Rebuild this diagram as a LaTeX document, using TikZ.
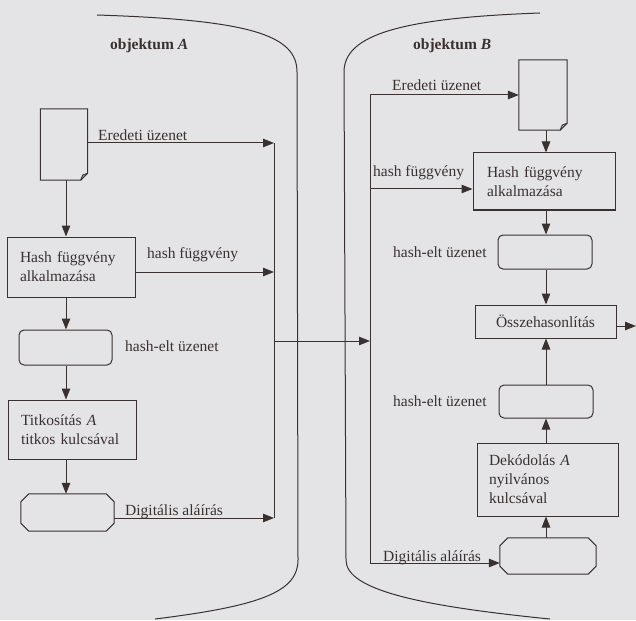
\documentclass[tikz,border=0pt]{standalone}
\usepackage{fontspec}
\setmainfont{Liberation Serif}
\usetikzlibrary{arrows.meta}
\definecolor{ink}{RGB}{58,48,48}
\definecolor{paper}{RGB}{228,228,230}
\newcommand\octframe[1]{\draw[line] ([xshift=8pt]#1.north west) -- ([xshift=-8pt]#1.north east) -- ([yshift=-8pt]#1.north east) -- ([yshift=8pt]#1.south east) -- ([xshift=-8pt]#1.south east) -- ([xshift=8pt]#1.south west) -- ([yshift=8pt]#1.south west) -- ([yshift=-8pt]#1.north west) -- cycle;}
\newcommand\docframe[1]{\draw[line] (#1.north west) -- (#1.north east) -- ([yshift=7pt]#1.south east) -- ([xshift=-7pt]#1.south east) -- (#1.south west) -- cycle;
  \draw[line] ([xshift=-7pt]#1.south east) -- ([xshift=-5pt,yshift=5pt]#1.south east) -- ([yshift=7pt]#1.south east);}
\tikzset{
  line/.style={draw=ink, line width=1pt},
  arr/.style={line, -{Triangle[length=11pt,width=8.5pt]}},
  box/.style={line, inner xsep=13pt, inner ysep=0pt, align=left},
  rbox/.style={line, rounded corners=5pt, inner sep=0pt},
  shape0/.style={inner sep=0pt},
  lbl/.style={inner sep=0pt, anchor=base west},
}
\begin{document}
\begin{tikzpicture}[x=1pt,y=-1pt, font=\fontsize{15.5}{19}\selectfont, text=ink]
\fill[paper] (0,0) rectangle (636,620);
\useasboundingbox (0,0) rectangle (636,620);

% containers
\draw[line] (97,15) .. controls (250,20) and (297,35) .. (297,72) -- (298,560) .. controls (298,592) and (260,606) .. (155,619);
\draw[line] (540,13) .. controls (400,18) and (344,35) .. (344,72) -- (346,560) .. controls (346,590) and (420,606) .. (550,619);

\node[lbl, font=\fontsize{15.5}{19}\selectfont\bfseries] (objA) at (110,50) {objektum \textit{A}};
\node[lbl, font=\fontsize{15.5}{19}\selectfont\bfseries] (objB) at (413,50) {objektum \textit{B}};

% columns
\coordinate (colA) at (66,0);
\coordinate (colB) at (546,0);

% left side nodes
\node[shape0, minimum width=47pt, minimum height=71pt] (docA) at (64,144.5) {};
\docframe{docA}
\node[box, text width=102pt, minimum height=60pt] (hashA) at (71,267) {Hash függvény\\alkalmazása};
\node[rbox, minimum width=93pt, minimum height=35pt] (hrA) at (65.5,347.5) {};
\node[box, text width=102pt, minimum height=59pt] (encA) at (72,429.5) {Titkosítás \textit{A}\\titkos kulcsával};
\node[shape0, minimum width=93pt, minimum height=37pt] (octA) at (67.5,512.5) {};
\octframe{octA}

% right side nodes
\node[shape0, minimum width=48pt, minimum height=70pt] (docB) at (543,95) {};
\docframe{docB}
\node[box, inner xsep=14pt, text width=114pt, minimum height=57pt] (hashB) at (544,181.5) {Hash függvény\\alkalmazása};
\node[rbox, minimum width=94pt, minimum height=34pt] (hrB1) at (545,252) {};
\node[line, inner sep=0pt, minimum width=141pt, minimum height=33pt] (cmp) at (545.5,321.5) {Összehasonlítás};
\node[rbox, minimum width=94pt, minimum height=33pt] (hrB2) at (546,401.5) {};
\node[box, inner xsep=12pt, text width=117pt, minimum height=73pt] (decB) at (547.5,479.5) {Dekódolás \textit{A}\\nyilvános\\kulcsával};
\node[shape0, minimum width=96pt, minimum height=36pt] (octB) at (548,556) {};
\octframe{octB}

% bus coordinates
\coordinate (a1) at (274,143);
\coordinate (a2) at (274,272);
\coordinate (a3) at (274,518);
\coordinate (aj) at (274,341);
\coordinate (bj) at (370,341);
\coordinate (b1) at (370,95);
\coordinate (b2) at (370,189);
\coordinate (b3) at (370,563);
\coordinate (out) at (636,326);

% left connectors
\draw[arr] (colA |- docA.south) -- (colA |- hashA.north);
\draw[arr] (colA |- hashA.south) -- (colA |- hrA.north);
\draw[arr] (colA |- hrA.south) -- (colA |- encA.north);
\draw[arr] (colA |- encA.south) -- (colA |- octA.north);
\draw[arr] (docA.east |- a1) -- (a1);
\draw[arr] (hashA.east |- a2) -- (a2);
\draw[arr] (octA.east |- a3) -- (a3);
\draw[line] (a1) -- (a3);
\draw[arr] (aj) -- (bj);

% right connectors
\draw[line] (b1) -- (b3);
\draw[arr] (b1) -- (docB.west |- b1);
\draw[arr] (b2) -- (hashB.west |- b2);
\draw[arr] (b3) -- (octB.west |- b3);
\draw[arr] (colB |- docB.south) -- (colB |- hashB.north);
\draw[arr] (colB |- hashB.south) -- (colB |- hrB1.north);
\draw[arr] (colB |- hrB1.south) -- (colB |- cmp.north);
\draw[arr] (colB |- hrB2.north) -- (colB |- cmp.south);
\draw[arr] (colB |- decB.north) -- (colB |- hrB2.south);
\draw[arr] (colB |- octB.north) -- (colB |- decB.south);
\draw[arr] (cmp.east |- out) -- (out);

% labels
\node[lbl] (lEA) at (98,141) {Eredeti üzenet};
\node[lbl] (lHA) at (147,258) {hash függvény};
\node[lbl] (lRA) at (125,351) {hash-elt üzenet};
\node[lbl] (lDA) at (125,515) {Digitális aláírás};
\node[lbl] (lEB) at (392,91) {Eredeti üzenet};
\node[lbl] (lHB) at (373,177) {hash függvény};
\node[lbl] (lRB1) at (393,257) {hash-elt üzenet};
\node[lbl] (lRB2) at (393,406) {hash-elt üzenet};
\node[lbl] (lDB) at (383,561) {Digitális aláírás};
\end{tikzpicture}
\end{document}
